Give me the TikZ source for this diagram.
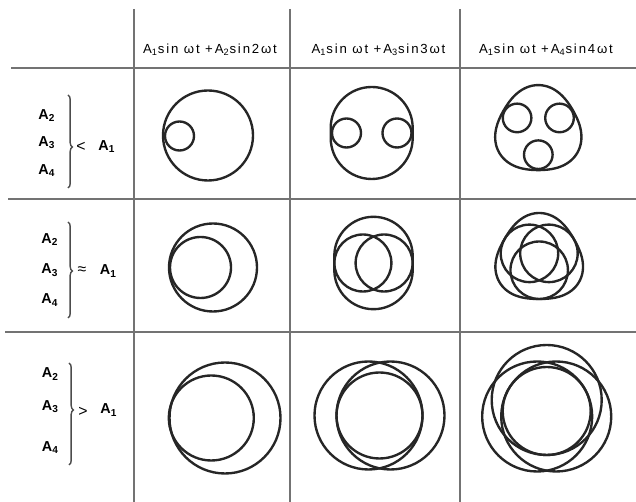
\documentclass[tikz,border=0pt]{standalone}
\usepackage{fontspec}
\setmainfont{Liberation Sans}
\usetikzlibrary{decorations.pathreplacing,positioning}

\begin{document}
\begin{tikzpicture}[x=0.02cm,y=-0.02cm,
    rule/.style={draw=black!55,line width=0.7pt},
    trace/.style={draw=black!85,line width=1.35pt},
    head/.style={font=\addfontfeatures{LetterSpace=14}\fontsize{7.5}{9}\selectfont,
      anchor=base,inner sep=0pt},
    amp/.style={font=\bfseries\fontsize{8.2}{10}\selectfont,anchor=base west,inner sep=0pt},
    rel/.style={font=\fontsize{9}{10}\selectfont,inner sep=0pt},
    grp/.style={draw=black!70,line width=0.8pt,decorate,
      decoration={brace,amplitude=2.5pt,aspect=#1}},
    grp/.default=0.5
  ]
  \useasboundingbox (0,0) rectangle (636,502);

  % table
  \draw[rule] (11,68) -- (636,68);
  \draw[rule] (8,199) -- (636,199);
  \draw[rule] (5,332) -- (636,332);
  \foreach \x in {134,290,460}
    \draw[rule] (\x,9) -- (\x,502);

  % column heads
  \node[head] (h2) at (210,53.5) {A\textsubscript{1}sin ωt +A\textsubscript{2}sin2ωt};
  \node[head] (h3) at (378.5,53.5) {A\textsubscript{1}sin ωt +A\textsubscript{3}sin3ωt};
  \node[head] (h4) at (546,53.5) {A\textsubscript{1}sin ωt +A\textsubscript{4}sin4ωt};

  % row heads
  \node[amp] (lo2) at (38,119.5) {A\textsubscript{2}};
  \node[amp] (lo3) at (38,146.5) {A\textsubscript{3}};
  \node[amp] (lo4) at (38,174.5) {A\textsubscript{4}};
  \coordinate (lot) at (68,95);
  \coordinate (lob) at (68,188);
  \draw[grp=0.56] (lot) -- (lob);
  \node[rel] (lorel) at (81,147) {<};
  \node[amp] (lo1) at (98,150.5) {A\textsubscript{1}};

  \node[amp] (eq2) at (41,243.5) {A\textsubscript{2}};
  \node[amp] (eq3) at (41,274) {A\textsubscript{3}};
  \node[amp] (eq4) at (41,304) {A\textsubscript{4}};
  \coordinate (eqt) at (68,222);
  \coordinate (eqb) at (68,318);
  \draw[grp=0.51] (eqt) -- (eqb);
  \node[rel] (eqrel) at (82,271) {≈};
  \node[amp] (eq1) at (99.5,275) {A\textsubscript{1}};

  \node[amp] (hi2) at (41.5,378) {A\textsubscript{2}};
  \node[amp] (hi3) at (41.5,410.5) {A\textsubscript{3}};
  \node[amp] (hi4) at (41.5,451.5) {A\textsubscript{4}};
  \coordinate (hit) at (69,363);
  \coordinate (hib) at (69,465);
  \draw[grp=0.46] (hit) -- (hib);
  \node[rel] (hirel) at (83,412) {>};
  \node[amp] (hi1) at (100,414) {A\textsubscript{1}};

  % A_n < A_1
  \draw[trace] (208,135.5) circle (45);
  \draw[trace] (179.5,136) circle (14.5);

  \draw[trace] (330.7,138) -- (330.7,128) arc[start angle=180,end angle=360,radius=41]
    -- (412.7,138) arc[start angle=0,end angle=180,radius=41] -- cycle;
  \draw[trace] (346.5,133) circle (14.5);
  \draw[trace] (397,133) circle (14.5);

  \draw[trace] plot[smooth cycle,domain=0:357,samples=120]
    ({538.3+(42.5+2.6*sin(3*\x))*cos(\x)},{130.2+(42.5+2.6*sin(3*\x))*sin(\x)});
  \foreach \a in {90,210,330}
    \draw[trace] (538.3,130.2) ++(\a:24.5) circle (14.3);

  % A_n ~ A_1
  \draw[trace] (213,267.5) circle (44);
  \draw[trace] (200.5,267.5) circle (30.5);

  \draw[trace] (334.3,270) -- (334.3,256) arc[start angle=180,end angle=360,radius=39.2]
    -- (412.7,270) arc[start angle=0,end angle=180,radius=39.2] -- cycle;
  \draw[trace] (362.9,263) circle (28.5);
  \draw[trace] (384.1,263) circle (28.5);

  \draw[trace] plot[smooth cycle,domain=0:357,samples=120]
    ({539.2+(43+3*sin(3*\x))*cos(\x)},{259+(43+3*sin(3*\x))*sin(\x)});
  \foreach \a in {90,210,330}
    \draw[trace] (539.2,259) ++(\a:11.25) circle (28.75);

  % A_n > A_1
  \draw[trace] (225,418) circle (55.5);
  \draw[trace] (211.3,418) circle (42.5);

  \draw[trace] (368.5,415.5) circle (54);
  \draw[trace] (390.5,415.5) circle (54);
  \draw[trace] (379.5,415.5) circle (43);

  \foreach \a in {30,150,270}
    \draw[trace] (546.7,411) ++(\a:11) circle (55);
  \draw[trace] (546.7,411) circle (44);
\end{tikzpicture}
\end{document}
